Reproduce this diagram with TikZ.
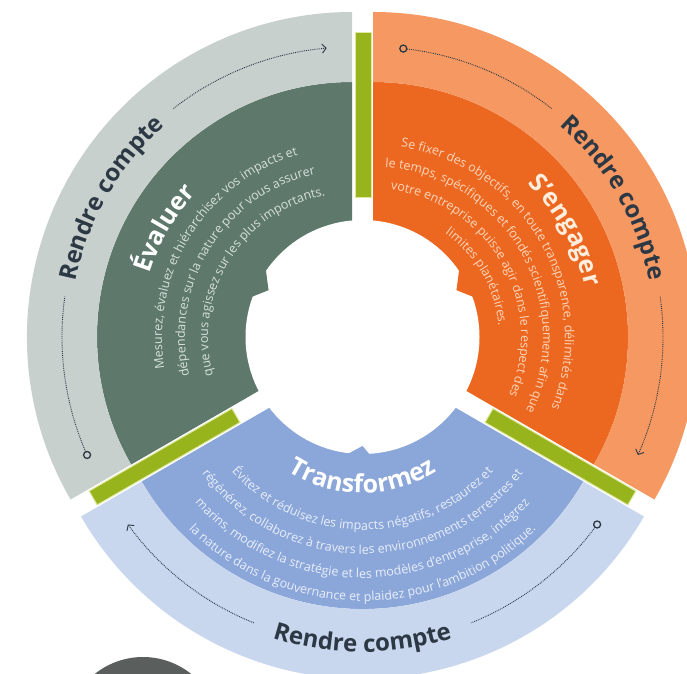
\documentclass[tikz,border=0pt]{standalone}
\usepackage{fontspec}
\setmainfont{Open Sans}
\usetikzlibrary{arrows.meta,decorations.text}

\definecolor{ringgray}{RGB}{199,208,205}
\definecolor{evalgreen}{RGB}{94,121,107}
\definecolor{ringorange}{RGB}{245,152,98}
\definecolor{engorange}{RGB}{236,104,33}
\definecolor{ringblue}{RGB}{201,215,238}
\definecolor{transblue}{RGB}{139,166,217}
\definecolor{barolive}{RGB}{152,180,28}
\definecolor{barlight}{RGB}{222,232,160}
\definecolor{rcdark}{RGB}{44,56,68}
\definecolor{txtgreen}{RGB}{214,224,218}
\definecolor{txtorange}{RGB}{252,214,186}
\definecolor{ttlorange}{RGB}{255,238,222}
\definecolor{txtblue}{RGB}{232,239,250}
\definecolor{blobgray}{RGB}{90,95,93}

\newcommand\ttlfont{\fontsize{25}{25}\selectfont\bfseries}
\newcommand\txtfont{\fontsize{12.5}{12.5}\selectfont}
\newcommand\rcfont{\fontsize{24}{24}\selectfont\bfseries}

\begin{document}
\begin{tikzpicture}[x=1pt, y=1pt,
    bar/.style = {fill=barolive, draw=barlight, line width=1pt},
  along/.style = {decorate,
                  decoration={text along path, text align=center,
                              text color=#1}},% curved text, centred on its arc
   dots/.style = {draw=rcdark, densely dotted, line width=0.9pt},
    tip/.style = {-{Straight Barb[length=4pt, width=9pt]}},
 ringdot/.style = {draw=rcdark, line width=1.3pt},
                    ]
\useasboundingbox (-362.5,-336) rectangle (324.5,337);
\clip (-362.5,-336) rectangle (324.5,337);
\coordinate (G) at (-10.5,0);  % Evaluer
\coordinate (O) at (10.5,0);   % S'engager
\coordinate (B) at (0,-17);    % Transformez
% sectors and their outer rings
\foreach \c/\a/\b/\rc/\fc in {G/90/210/ringgray/evalgreen,
                              O/-30/90/ringorange/engorange,
                              B/210/330/ringblue/transblue}
{
  \begin{scope}[shift={(\c)}]
    \fill[\fc] (0,0) -- (\a:255) arc[start angle=\a, end angle=\b, radius=255] -- cycle;
    \fill[\rc] (\a:255) arc[start angle=\a, end angle=\b, radius=255]
          -- (\b:325) arc[start angle=\b, end angle=\a, radius=325] -- cycle;
  \end{scope}
}
% white centre, with a small tooth on each sector
\fill[white] (0,0) circle[radius=117];
\fill[evalgreen] (144:120) -- (153.5:105) -- (161:120) -- cycle;
\fill[engorange] (36:120) -- (26.5:105) -- (19:120) -- cycle;
\fill[transblue] (262:119) -- (270:109) -- (274:119) -- cycle;
% olive bars in the gaps
\coordinate (tb) at (1,0);
\coordinate (lb) at (-5.25,-8.5);
\coordinate (rb) at (5.25,-8.5);
\foreach \s/\ang in {tb/90, lb/210, rb/330}
  \draw[bar, shift={(\s)}, rotate=\ang] (140,-8) rectangle (305,8);

% Evaluer
\begin{scope}[shift={(G)}]
\path[along=white, decoration={text={|\ttlfont|Évaluer}}]
  (220:212) arc[start angle=220, end angle=80, radius=212];
\path[along=txtgreen, decoration={text={|\txtfont|Mesurez, évaluez et hiérarchisez vos impacts et}}]
  (218:190) arc[start angle=218, end angle=78, radius=190];
\path[along=txtgreen, decoration={text={|\txtfont|dépendances sur la nature pour vous assurer}}]
  (218:167) arc[start angle=218, end angle=78, radius=167];
\path[along=txtgreen, decoration={text={|\txtfont|que vous agissez sur les plus importants.}}]
  (218:144) arc[start angle=218, end angle=78, radius=144];
\path[along=rcdark, decoration={text={|\rcfont|Rendre compte}}]
  (220:282) arc[start angle=220, end angle=80, radius=282];
\draw[dots] (204:290) arc[start angle=204, end angle=172, radius=290];
\draw[dots, tip] (128:290) arc[start angle=128, end angle=95, radius=290];
\draw[ringdot, fill=ringgray] (204:290) circle[radius=3.5];
\end{scope}

% S'engager
\begin{scope}[shift={(O)}]
\path[along=ttlorange, decoration={text={|\ttlfont|S'engager}}]
  (99:218) arc[start angle=99, end angle=-41, radius=218];
\path[along=txtorange, decoration={text={|\txtfont|Se fixer des objectifs, en toute transparence, délimités dans}}]
  (100:192) arc[start angle=100, end angle=-40, radius=192];
\path[along=txtorange, decoration={text={|\txtfont|le temps, spécifiques et fondés scientifiquement afin que}}]
  (100:170) arc[start angle=100, end angle=-40, radius=170];
\path[along=txtorange, decoration={text={|\txtfont|votre entreprise puisse agir dans le respect des}}]
  (100:148) arc[start angle=100, end angle=-40, radius=148];
\path[along=txtorange, decoration={text={|\txtfont|limites planétaires.}}]
  (100:126) arc[start angle=100, end angle=-40, radius=126];
\path[along=rcdark, decoration={text={|\rcfont|Rendre compte}}]
  (100:282) arc[start angle=100, end angle=-40, radius=282];
\draw[dots] (84:290) arc[start angle=84, end angle=52, radius=290];
\draw[dots, tip] (8:290) arc[start angle=8, end angle=-24, radius=290];
\draw[ringdot, fill=ringorange] (84:290) circle[radius=3.5];
\end{scope}

% Transformez
\begin{scope}[shift={(B)}]
\path[along=white, decoration={text={|\ttlfont|Transformez}}]
  (200:139) arc[start angle=200, end angle=340, radius=139];
\path[along=txtblue, decoration={text={|\txtfont|Évitez et réduisez les impacts négatifs, restaurez et}}]
  (200:176) arc[start angle=200, end angle=340, radius=176];
\path[along=txtblue, decoration={text={|\txtfont|régénérez, collaborez à travers les environnements terrestres et}}]
  (200:200) arc[start angle=200, end angle=340, radius=200];
\path[along=txtblue, decoration={text={|\txtfont|marins, modifiez la stratégie et les modèles d'entreprise, intégrez}}]
  (200:224) arc[start angle=200, end angle=340, radius=224];
\path[along=txtblue, decoration={text={|\txtfont|la nature dans la gouvernance et plaidez pour l'ambition politique.}}]
  (200:247) arc[start angle=200, end angle=340, radius=247];
\path[along=rcdark, decoration={text={|\rcfont|Rendre compte}}]
  (200:298) arc[start angle=200, end angle=340, radius=298];
\draw[dots] (324:290) arc[start angle=324, end angle=292, radius=290];
\draw[dots, tip] (248:290) arc[start angle=248, end angle=216, radius=290];
\draw[ringdot, fill=ringblue] (324:290) circle[radius=3.5];
\end{scope}

% dark shape cut by the lower edge
\fill[blobgray] (-219.5,-397) circle[radius=77];
\end{tikzpicture}
\end{document}
